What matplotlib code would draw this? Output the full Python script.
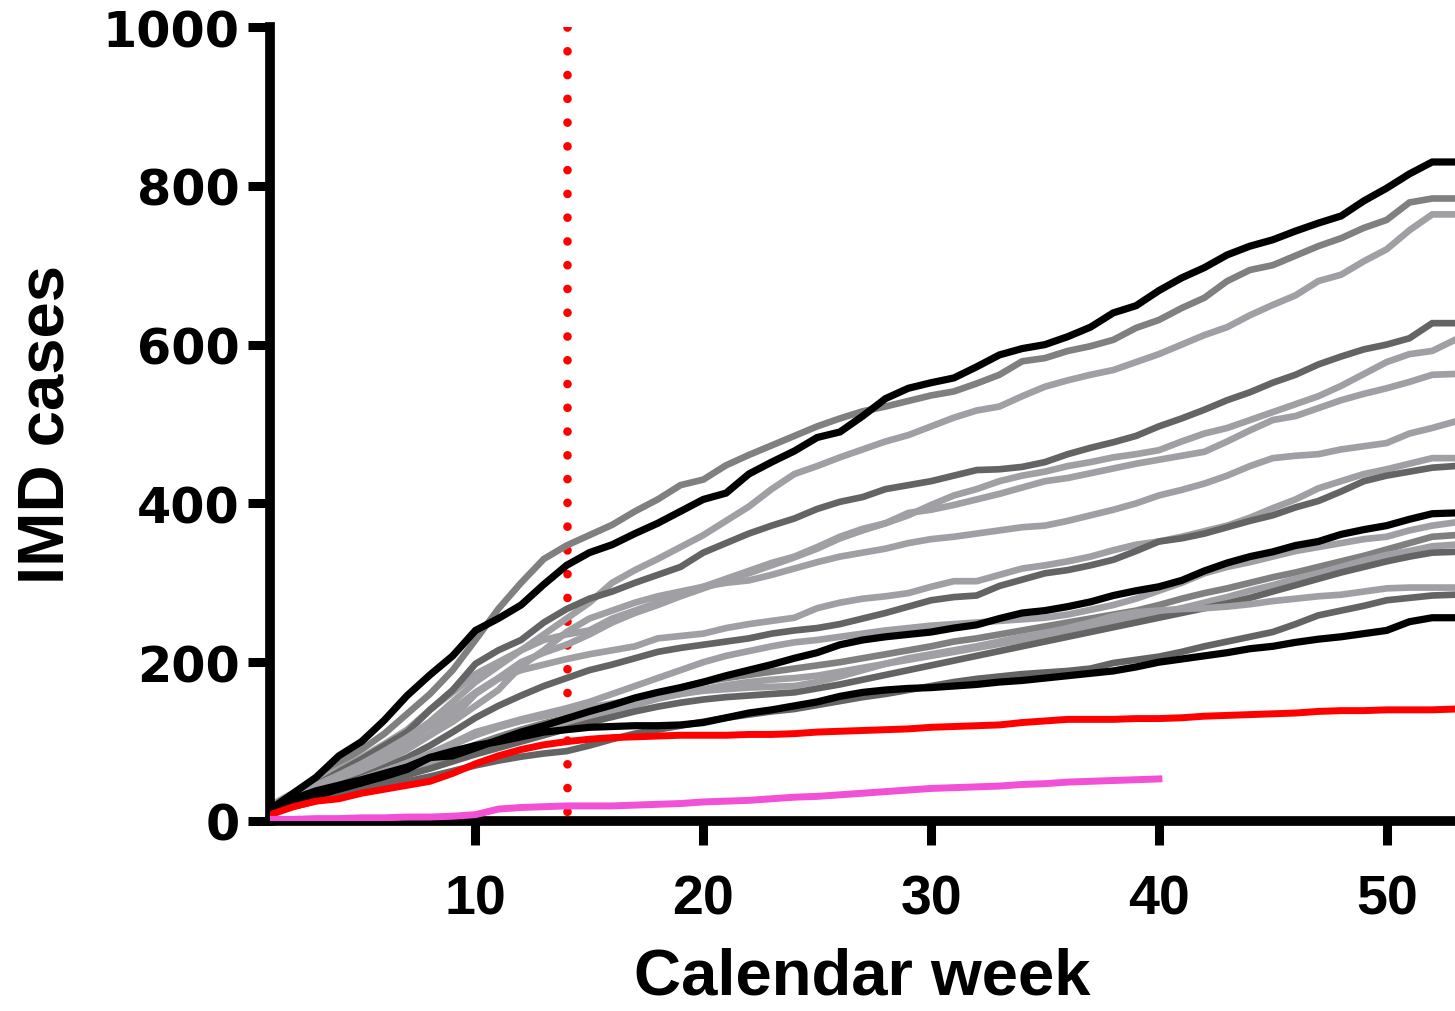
import matplotlib
matplotlib.use("Agg")
import matplotlib.pyplot as plt

# calendar weeks (week 53 included, x axis runs to 53)
weeks = list(range(1, 54))
weeks_current = list(range(1, 41))

# cumulative IMD cases per earlier season
black_1 = [15, 35, 55, 82, 100, 127, 158, 184, 208, 240,
           255, 272, 298, 322, 338, 348, 362, 375, 390, 405,
           413, 437, 452, 466, 483, 490, 510, 532, 545, 552,
           558, 572, 587, 595, 600, 610, 622, 640, 649, 668,
           684, 697, 713, 724, 732, 743, 753, 762, 781, 797,
           815, 830, 830]
mid_1 = [18, 35, 52, 72, 90, 110, 135, 160, 190, 228,
         267, 300, 330, 347, 360, 373, 390, 405, 423, 430,
         448, 461, 473, 485, 497, 507, 516, 522, 529, 536,
         541, 551, 562, 579, 583, 592, 598, 606, 621, 631,
         646, 659, 680, 694, 700, 712, 724, 734, 747, 757,
         779, 784, 784]
light_1 = [20, 35, 50, 65, 80, 97, 115, 140, 162, 185,
           200, 215, 235, 255, 275, 300, 316, 330, 345, 360,
           378, 396, 418, 437, 447, 458, 468, 478, 486, 497,
           508, 517, 522, 535, 547, 555, 562, 568, 578, 588,
           600, 612, 622, 637, 650, 662, 680, 688, 705, 720,
           744, 764, 764]
dark_1 = [15, 30, 45, 62, 78, 95, 112, 140, 165, 198,
          215, 228, 250, 267, 280, 289, 300, 310, 320, 338,
          350, 362, 372, 381, 393, 402, 408, 418, 423, 428,
          435, 442, 443, 446, 452, 462, 470, 477, 485, 497,
          507, 518, 530, 540, 552, 562, 575, 585, 594, 600,
          608, 627, 627]
light_2 = [18, 32, 45, 58, 72, 88, 105, 125, 150, 175,
           195, 215, 228, 235, 240, 255, 265, 275, 284, 295,
           305, 315, 325, 333, 345, 358, 368, 375, 385, 398,
           410, 418, 428, 435, 440, 447, 452, 458, 462, 467,
           478, 488, 495, 505, 515, 525, 535, 548, 563, 578,
           588, 592, 606]
light_3 = [17, 30, 42, 55, 68, 82, 100, 118, 140, 162,
           180, 200, 212, 222, 235, 250, 262, 272, 283, 293,
           303, 312, 322, 332, 343, 356, 366, 375, 388, 392,
           398, 405, 412, 420, 428, 432, 438, 444, 450, 455,
           460, 465, 478, 492, 505, 510, 520, 530, 538, 545,
           553, 562, 563]
light_4 = [16, 28, 40, 52, 64, 77, 92, 108, 125, 145,
           165, 195, 215, 238, 255, 265, 275, 283, 289, 295,
           300, 303, 310, 318, 326, 333, 338, 343, 350, 355,
           358, 362, 366, 370, 372, 378, 385, 392, 400, 410,
           417, 425, 435, 447, 457, 460, 462, 468, 472, 476,
           488, 495, 503]
light_5 = [15, 27, 38, 50, 62, 75, 90, 108, 130, 160,
           179, 190, 197, 204, 210, 215, 220, 230, 233, 236,
           243, 248, 252, 256, 268, 275, 280, 283, 287, 295,
           302, 302, 310, 318, 322, 327, 333, 341, 348, 352,
           358, 365, 372, 382, 394, 405, 419, 428, 437, 443,
           450, 457, 457]
dark_2 = [14, 25, 35, 45, 55, 67, 80, 95, 112, 130,
          145, 158, 170, 180, 190, 197, 205, 213, 218, 222,
          226, 230, 236, 240, 243, 248, 255, 262, 270, 278,
          282, 284, 296, 304, 312, 316, 322, 329, 340, 352,
          356, 362, 370, 378, 385, 395, 403, 415, 428, 435,
          440, 445, 447]
black_2 = [15, 28, 38, 45, 52, 60, 68, 80, 82, 92,
           102, 112, 120, 129, 138, 146, 155, 162, 168, 175,
           183, 190, 197, 205, 212, 222, 228, 232, 235, 238,
           243, 247, 255, 262, 265, 270, 276, 284, 290, 295,
           303, 315, 325, 333, 339, 347, 352, 361, 367, 372,
           380, 387, 388]
light_6 = [14, 24, 33, 42, 52, 62, 73, 85, 98, 112,
           120, 128, 135, 142, 150, 160, 170, 180, 190, 200,
           208, 214, 220, 225, 228, 232, 236, 240, 243, 246,
           248, 250, 252, 254, 256, 260, 266, 272, 280, 290,
           300, 312, 320, 326, 333, 340, 345, 350, 355, 358,
           366, 372, 376]
mid_2 = [13, 22, 30, 38, 46, 55, 64, 74, 85, 96,
         106, 115, 123, 130, 137, 145, 152, 160, 168, 175,
         180, 184, 188, 192, 196, 200, 205, 210, 215, 220,
         226, 230, 235, 240, 245, 250, 255, 260, 265, 272,
         280, 287, 293, 300, 307, 313, 320, 327, 334, 342,
         350, 358, 360]
light_7 = [12, 20, 28, 36, 44, 52, 61, 70, 80, 90,
           100, 108, 115, 122, 130, 138, 146, 154, 160, 166,
           171, 175, 178, 180, 183, 188, 193, 198, 203, 208,
           213, 218, 223, 228, 233, 238, 244, 250, 256, 262,
           268, 275, 282, 290, 297, 305, 312, 320, 328, 335,
           340, 346, 348]
dark_3 = [11, 19, 27, 35, 42, 50, 58, 66, 75, 84,
          92, 100, 108, 116, 124, 131, 138, 144, 149, 153,
          156, 158, 160, 162, 167, 172, 178, 184, 190, 196,
          202, 208, 214, 220, 226, 232, 238, 244, 250, 256,
          262, 268, 274, 281, 289, 297, 305, 313, 320, 327,
          333, 338, 339]
light_8 = [13, 23, 33, 43, 53, 63, 73, 84, 96, 108,
           118, 126, 132, 138, 143, 148, 152, 156, 160, 164,
           166, 168, 169, 170, 175, 182, 190, 198, 205, 210,
           215, 220, 226, 232, 237, 243, 250, 258, 263, 265,
           267, 268, 270, 273, 277, 280, 283, 285, 289, 293,
           294, 294, 294]
dark_4 = [10, 18, 25, 32, 38, 44, 50, 56, 63, 70,
          76, 81, 85, 88, 95, 103, 110, 115, 120, 125,
          130, 134, 138, 141, 146, 151, 156, 160, 165, 170,
          175, 179, 182, 185, 187, 189, 192, 199, 203, 207,
          213, 220, 226, 232, 238, 248, 259, 265, 271, 278,
          281, 284, 285]
black_3 = [12, 22, 32, 40, 48, 56, 65, 80, 88, 95,
           100, 106, 112, 115, 118, 119, 120, 120, 121, 124,
           130, 136, 140, 145, 150, 157, 162, 165, 167, 168,
           170, 172, 175, 177, 180, 183, 186, 189, 194, 200,
           204, 208, 212, 217, 220, 225, 229, 232, 236, 240,
           251, 256, 256]

# season with the intervention (red) and the current season (magenta)
red_season = [8, 18, 25, 28, 35, 40, 45, 50, 60, 72,
              82, 90, 96, 100, 103, 105, 106, 107, 108, 108,
              108, 109, 109, 110, 112, 113, 114, 115, 116, 118,
              119, 120, 121, 124, 126, 128, 128, 128, 129, 129,
              130, 132, 133, 134, 135, 136, 138, 139, 139, 140,
              140, 140, 141]
current_season = [2, 2, 3, 3, 4, 4, 5, 5, 6, 8,
                  15, 17, 18, 19, 19, 19, 20, 21, 22, 24,
                  25, 26, 28, 30, 31, 33, 35, 37, 39, 41,
                  42, 43, 44, 46, 47, 49, 50, 51, 52, 53]

marker_week = 14

BLACK = "#000000"
DARK = "#646464"
MID = "#808080"
LIGHT = "#a0a0a4"

gray_series = [
    (mid_1, MID), (light_1, LIGHT), (dark_1, DARK), (light_2, LIGHT),
    (light_3, LIGHT), (light_4, LIGHT), (light_5, LIGHT), (dark_2, DARK),
    (light_6, LIGHT), (mid_2, MID), (light_7, LIGHT), (dark_3, DARK),
    (light_8, LIGHT), (dark_4, DARK),
]
black_series = [black_3, black_2, black_1]

fig = plt.figure(figsize=(14.55, 10.12), dpi=100)
ax = fig.add_axes([0.1859, 0.18775, 0.8141, 0.78458])

# lockdown marker, drawn under the lines (from the top so the dots line up with 1000)
ax.plot([marker_week, marker_week], [1000, 0], color="#ff0000", lw=6.2,
        linestyle=(0, (0.01, 2.75)), dash_capstyle="round", zorder=1)

for vals, col in gray_series:
    ax.plot(weeks, vals, color=col, lw=4.8, solid_joinstyle="miter", zorder=2)
for vals in black_series:
    ax.plot(weeks, vals, color=BLACK, lw=5.2, solid_joinstyle="miter", zorder=3)
ax.plot(weeks, red_season, color="#ff0000", lw=5, zorder=4)
ax.plot(weeks_current, current_season, color="#f250d6", lw=5, zorder=5)

ax.set_xlim(1, 53)
ax.set_ylim(0, 1000)
ax.set_xticks([10, 20, 30, 40, 50])
ax.set_yticks([0, 200, 400, 600, 800, 1000])

for side in ["top", "right"]:
    ax.spines[side].set_visible(False)
for side in ["left", "bottom"]:
    ax.spines[side].set_linewidth(7)
    ax.spines[side].set_capstyle("projecting")

ax.tick_params(axis="y", length=16, width=6.5, pad=6)
ax.tick_params(axis="x", length=17, width=6.5, pad=21)

for lab in ax.get_yticklabels():
    lab.set_fontfamily("DejaVu Sans")
    lab.set_fontweight("bold")
    lab.set_fontsize(35.5)
for lab in ax.get_xticklabels():
    lab.set_fontfamily("Liberation Sans")
    lab.set_fontweight("bold")
    lab.set_fontsize(40)

ax.set_xlabel("Calendar week", fontfamily="Liberation Sans", fontweight="bold",
              fontsize=47, labelpad=15)
ax.set_ylabel("IMD cases", fontfamily="Liberation Sans", fontweight="bold",
              fontsize=47, labelpad=19)

fig.savefig("out.png", dpi=100)
